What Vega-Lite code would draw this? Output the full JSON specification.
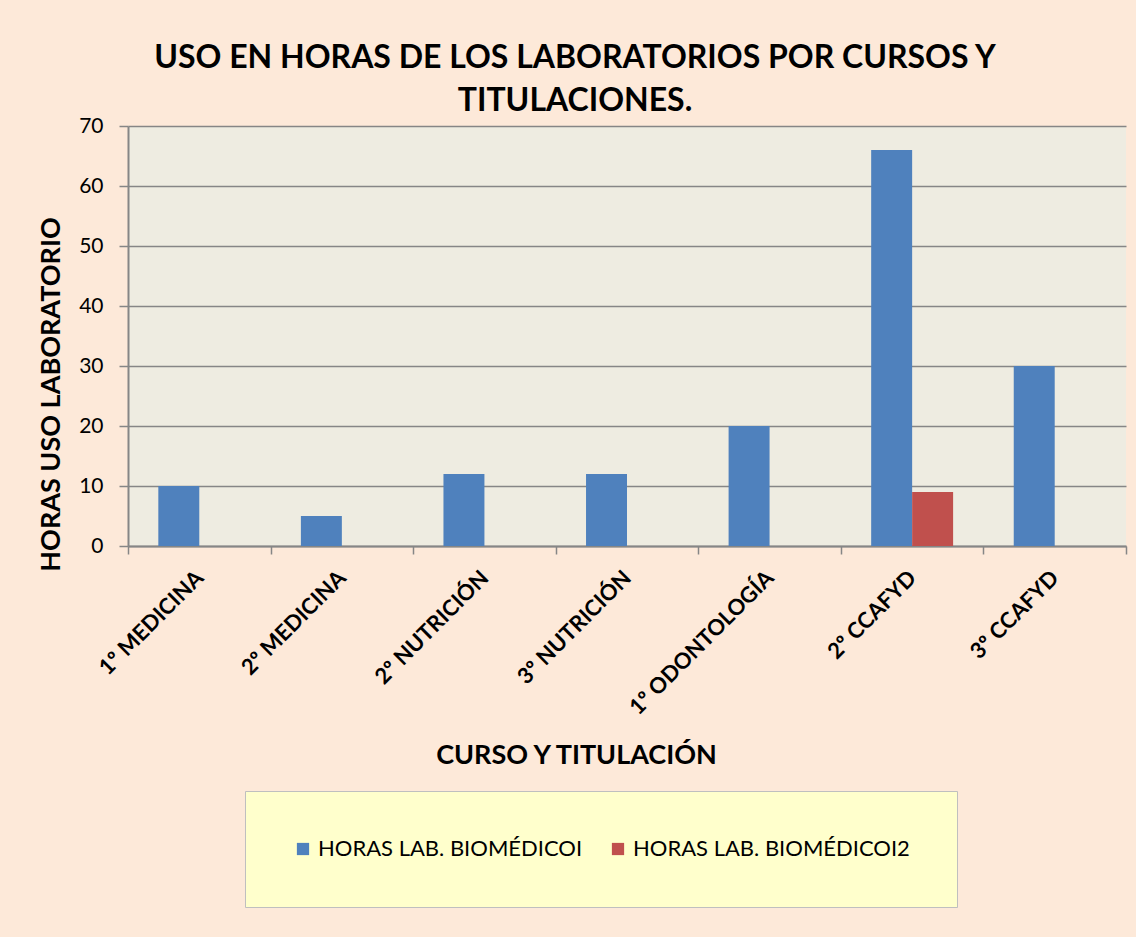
{
  "$schema": "https://vega.github.io/schema/vega-lite/v6.json",
  "autosize": "none",
  "width": 998,
  "height": 420,
  "padding": {"left": 128, "top": 126, "right": 10, "bottom": 391},
  "background": "#FDE9D9",
  "title": {
    "text": ["USO EN HORAS DE LOS LABORATORIOS POR CURSOS Y", "TITULACIONES."],
    "font": "Lato",
    "fontSize": 32,
    "fontWeight": "bold",
    "color": "#000000",
    "anchor": "middle",
    "dx": -52,
    "lineHeight": 43,
    "offset": -3
  },
  "data": {
    "values": [
      {"curso": "1º MEDICINA", "serie": "HORAS LAB. BIOMÉDICOI", "horas": 10},
      {"curso": "2º MEDICINA", "serie": "HORAS LAB. BIOMÉDICOI", "horas": 5},
      {"curso": "2º NUTRICIÓN", "serie": "HORAS LAB. BIOMÉDICOI", "horas": 12},
      {"curso": "3º NUTRICIÓN", "serie": "HORAS LAB. BIOMÉDICOI", "horas": 12},
      {"curso": "1º ODONTOLOGÍA", "serie": "HORAS LAB. BIOMÉDICOI", "horas": 20},
      {"curso": "2º CCAFYD", "serie": "HORAS LAB. BIOMÉDICOI", "horas": 66},
      {"curso": "2º CCAFYD", "serie": "HORAS LAB. BIOMÉDICOI2", "horas": 9},
      {"curso": "3º CCAFYD", "serie": "HORAS LAB. BIOMÉDICOI", "horas": 30}
    ]
  },
  "mark": {"type": "bar"},
  "encoding": {
    "x": {
      "field": "curso",
      "type": "nominal",
      "sort": null,
      "scale": {"paddingInner": 0, "paddingOuter": 0},
      "axis": {
        "title": "CURSO Y TITULACIÓN",
        "titleFont": "Lato",
        "titleFontSize": 27,
        "titleFontWeight": "bold",
        "titleColor": "#000000",
        "titleBaseline": "middle",
        "titleX": 448,
        "titleY": 209,
        "labelAngle": -45,
        "labelAlign": "right",
        "labelBaseline": "middle",
        "labelFont": "Lato",
        "labelFontSize": 22,
        "labelFontWeight": "bold",
        "labelColor": "#000000",
        "labelPadding": 20,
        "labelLimit": 300,
        "tickBand": "extent",
        "tickSize": 8,
        "tickColor": "#868686",
        "tickWidth": 1.5,
        "domainColor": "#868686",
        "domainWidth": 2,
        "grid": false
      }
    },
    "xOffset": {
      "field": "serie",
      "type": "nominal",
      "scale": {"paddingInner": 0, "paddingOuter": 0.74}
    },
    "y": {
      "field": "horas",
      "type": "quantitative",
      "scale": {"domain": [0, 70], "nice": false},
      "axis": {
        "title": "HORAS USO LABORATORIO",
        "titleFont": "Lato",
        "titleFontSize": 27,
        "titleFontWeight": "bold",
        "titleColor": "#000000",
        "titleBaseline": "middle",
        "titleX": -77,
        "titleY": 268,
        "values": [0, 10, 20, 30, 40, 50, 60, 70],
        "labelFont": "Lato",
        "labelFontSize": 21,
        "labelColor": "#000000",
        "labelPadding": 16,
        "tickSize": 9,
        "tickColor": "#868686",
        "tickWidth": 1.5,
        "domainColor": "#868686",
        "domainWidth": 2,
        "grid": true,
        "gridColor": "#868686",
        "gridWidth": 1.5
      }
    },
    "color": {
      "field": "serie",
      "type": "nominal",
      "scale": {"domain": ["HORAS LAB. BIOMÉDICOI", "HORAS LAB. BIOMÉDICOI2"], "range": ["#4F81BD", "#C0504D"]},
      "legend": {
        "title": null,
        "orient": "none",
        "direction": "horizontal",
        "legendX": 117,
        "legendY": 665,
        "fillColor": "#FFFFCC",
        "strokeColor": "#BFBFBF",
        "padding": 47,
        "symbolType": "square",
        "symbolSize": 150,
        "symbolStrokeWidth": 0,
        "labelFont": "'Liberation Sans Narrow', Lato",
        "labelFontSize": 22,
        "labelColor": "#000000",
        "labelLimit": 400,
        "columnPadding": 24
      }
    }
  },
  "config": {
    "view": {"fill": "#EEECE1", "stroke": null}
  }
}
